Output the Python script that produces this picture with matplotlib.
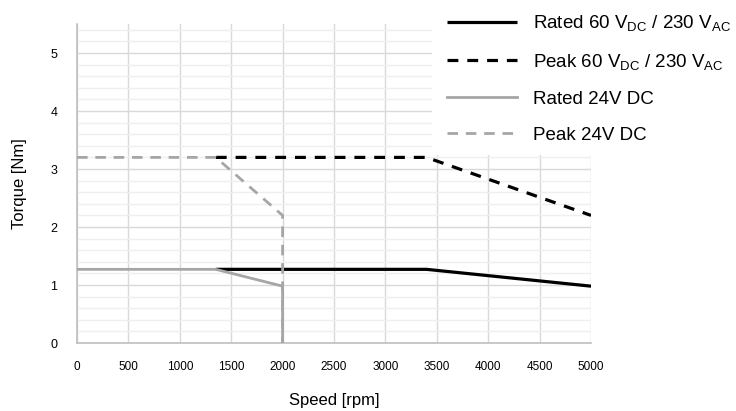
import matplotlib
matplotlib.use("Agg")
import matplotlib.pyplot as plt
from matplotlib.ticker import MultipleLocator
from matplotlib.patches import Rectangle

plt.rcParams['font.family'] = ['Liberation Sans', 'DejaVu Sans']
plt.rcParams['mathtext.fontset'] = 'custom'
plt.rcParams['mathtext.rm'] = 'Liberation Sans'
plt.rcParams['mathtext.it'] = 'Liberation Sans'

# Data
rated60_x = [1350, 3400, 5000]
rated60_y = [1.27, 1.27, 0.98]
peak60_x = [1350, 3400, 5000]
peak60_y = [3.2, 3.2, 2.2]
rated24_x = [0, 1350, 2000, 2000]
rated24_y = [1.27, 1.27, 0.98, 0.0]
peak24_x = [0, 1350, 2000, 2000]
peak24_y = [3.2, 3.2, 2.2, 0.0]

labels = [r"Rated 60 V$_{\mathrm{DC}}$ / 230 V$_{\mathrm{AC}}$",
          r"Peak 60 V$_{\mathrm{DC}}$ / 230 V$_{\mathrm{AC}}$",
          "Rated 24V DC",
          "Peak 24V DC"]
x_ticks = [0, 500, 1000, 1500, 2000, 2500, 3000, 3500, 4000, 4500, 5000]
y_ticks = [0, 1, 2, 3, 4, 5]

W, H = 736, 411
fig = plt.figure(figsize=(W/100, H/100), dpi=100)
ax = fig.add_axes([77/W, 1-343/H, (591-77)/W, (343-24)/H])

black = '#000000'
gray = '#a6a6a6'
l1, = ax.plot(rated60_x, rated60_y, color=black, lw=2.3, solid_capstyle='butt', zorder=3)
l2, = ax.plot(peak60_x, peak60_y, color=black, lw=2.3, linestyle=(0, (3.4, 2.8)), zorder=3)
l3, = ax.plot(rated24_x, rated24_y, color=gray, lw=2.0, zorder=4)
l4, = ax.plot(peak24_x, peak24_y, color=gray, lw=2.0, linestyle=(0, (3.8, 2.8)), zorder=4)

ax.set_xlim(0, 5000)
ax.set_ylim(0, 5.5)
ax.set_xticks(x_ticks)
ax.set_yticks(y_ticks)
ax.yaxis.set_minor_locator(MultipleLocator(0.2))
ax.grid(True, which='major', color='#d9d9d9', lw=1.0, zorder=0)
ax.grid(True, which='minor', axis='y', color='#efefef', lw=1.0, zorder=0)
ax.set_axisbelow(True)
for s in ['top', 'right']:
    ax.spines[s].set_visible(False)
for s in ['left', 'bottom']:
    ax.spines[s].set_color('#bfbfbf')
    ax.spines[s].set_linewidth(1.2)
ax.tick_params(which='both', length=0)
ax.tick_params(axis='x', labelsize=8.5, pad=13)
ax.tick_params(axis='y', labelsize=9, pad=14)
ax.set_xlabel("Speed [rpm]", fontsize=12, labelpad=14)
ax.set_ylabel("Torque [Nm]", fontsize=12, labelpad=17)

# white legend area covering the grid
fig.patches.append(Rectangle((432/W, 1-155/H), 1-432/W, 155/H, transform=fig.transFigure,
                             facecolor='white', edgecolor='none', zorder=2))

leg = fig.legend([l1, l2, l3, l4], labels, loc='upper left',
                 bbox_to_anchor=(434/W, 1.0), frameon=False, fontsize=13.5,
                 handlelength=3.75, handletextpad=0.82, labelspacing=1.0,
                 borderpad=0.4, borderaxespad=0.3)
leg.set_zorder(5)

fig.savefig("out.png", dpi=100)
